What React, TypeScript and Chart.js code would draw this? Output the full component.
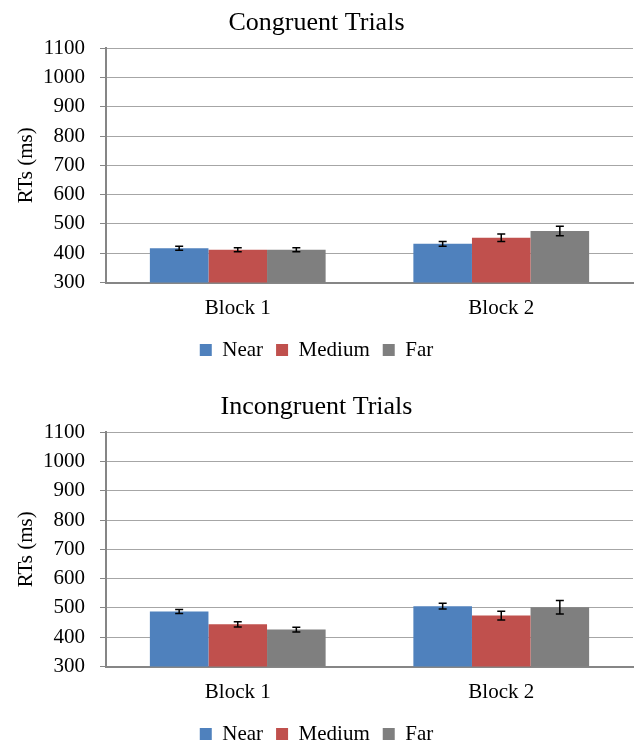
import React, { useEffect, useRef } from "react";
import { Chart, registerables } from "chart.js";

Chart.register(...registerables);

const categories = ["Block 1", "Block 2"];
const seriesNames = ["Near", "Medium", "Far"];
const seriesColors = ["#4F81BD", "#C0504D", "#7F7F7F"];

const congruentNear = [417, 432];
const congruentMedium = [412, 453];
const congruentFar = [412, 476];
const congruentNearErr = [7, 8];
const congruentMediumErr = [7, 13];
const congruentFarErr = [7, 16];

const incongruentNear = [488, 506];
const incongruentMedium = [444, 474];
const incongruentFar = [426, 502];
const incongruentNearErr = [7, 10];
const incongruentMediumErr = [9, 15];
const incongruentFarErr = [8, 23];

const yTicks = [300, 400, 500, 600, 700, 800, 900, 1000, 1100];

const FONT = "'Liberation Serif', 'Times New Roman', serif";

const errorBarPlugin = {
  id: "errorBars",
  afterDatasetsDraw(chart: any) {
    const ctx = chart.ctx;
    const y = chart.scales.y;
    ctx.save();
    ctx.strokeStyle = "#000";
    ctx.lineWidth = 1.5;
    chart.data.datasets.forEach((ds: any, i: number) => {
      const meta = chart.getDatasetMeta(i);
      meta.data.forEach((bar: any, j: number) => {
        const v = ds.data[j];
        const e = ds.errors[j];
        const x = bar.x;
        const yt = y.getPixelForValue(v + e);
        const yb = y.getPixelForValue(v - e);
        ctx.beginPath();
        ctx.moveTo(x, yt);
        ctx.lineTo(x, yb);
        ctx.moveTo(x - 4, yt);
        ctx.lineTo(x + 4, yt);
        ctx.moveTo(x - 4, yb);
        ctx.lineTo(x + 4, yb);
        ctx.stroke();
      });
    });
    ctx.restore();
  },
};

function makeConfig(title: string, values: number[][], errors: number[][]): any {
  return {
    type: "bar",
    data: {
      labels: categories,
      datasets: seriesNames.map((name, i) => ({
        label: name,
        data: values[i],
        errors: errors[i],
        backgroundColor: seriesColors[i],
        borderWidth: 0,
        categoryPercentage: 0.667,
        barPercentage: 1,
      })),
    },
    options: {
      animation: false,
      responsive: false,
      maintainAspectRatio: false,
      layout: { padding: { left: 0, right: 3, top: 0, bottom: 13.5 } },
      plugins: {
        title: {
          display: true,
          text: title,
          color: "#000",
          font: { family: FONT, size: 26, weight: "normal" },
          padding: { top: 8, bottom: 9 },
        },
        legend: {
          display: true,
          position: "bottom",
          labels: {
            color: "#000",
            font: { family: FONT, size: 21 },
            boxWidth: 12,
            boxHeight: 12,
            padding: 13,
          },
        },
        tooltip: { enabled: false },
      },
      scales: {
        x: {
          grid: { display: false, drawTicks: false },
          border: { display: true, color: "#868686", width: 2 },
          ticks: { color: "#000", font: { family: FONT, size: 21 }, padding: 13 },
          afterFit: (s: any) => {
            s.height = 44;
          },
        },
        y: {
          min: 300,
          max: 1100,
          afterBuildTicks: (s: any) => {
            s.ticks = yTicks.map((v) => ({ value: v }));
          },
          grid: {
            color: "#A6A6A6",
            lineWidth: 1,
            drawTicks: true,
            tickLength: 6,
            tickColor: "#868686",
          },
          border: { display: true, color: "#868686", width: 2 },
          ticks: {
            color: "#000",
            font: { family: FONT, size: 21 },
            padding: 15,
            callback: (v: any) => String(v),
          },
          title: {
            display: true,
            text: "RTs (ms)",
            color: "#000",
            font: { family: FONT, size: 21 },
            padding: { top: 14, bottom: 0 },
          },
          afterFit: (s: any) => {
            s.width = 106;
          },
        },
      },
    },
    plugins: [errorBarPlugin],
  };
}

function BarChart(props: { title: string; values: number[][]; errors: number[][] }) {
  const ref = useRef<HTMLCanvasElement | null>(null);
  useEffect(() => {
    if (!ref.current) return;
    const chart = new Chart(ref.current, makeConfig(props.title, props.values, props.errors));
    return () => chart.destroy();
  }, []);
  return <canvas ref={ref} width={636} height={384} style={{ display: "block", width: 636, height: 384 }} />;
}

export default function App() {
  return (
    <div
      style={{
        position: "absolute",
        left: 0,
        top: 0,
        width: 636,
        height: 745,
        overflow: "hidden",
        background: "#fff",
      }}
    >
      <BarChart
        title="Congruent Trials"
        values={[congruentNear, congruentMedium, congruentFar]}
        errors={[congruentNearErr, congruentMediumErr, congruentFarErr]}
      />
      <BarChart
        title="Incongruent Trials"
        values={[incongruentNear, incongruentMedium, incongruentFar]}
        errors={[incongruentNearErr, incongruentMediumErr, incongruentFarErr]}
      />
    </div>
  );
}
